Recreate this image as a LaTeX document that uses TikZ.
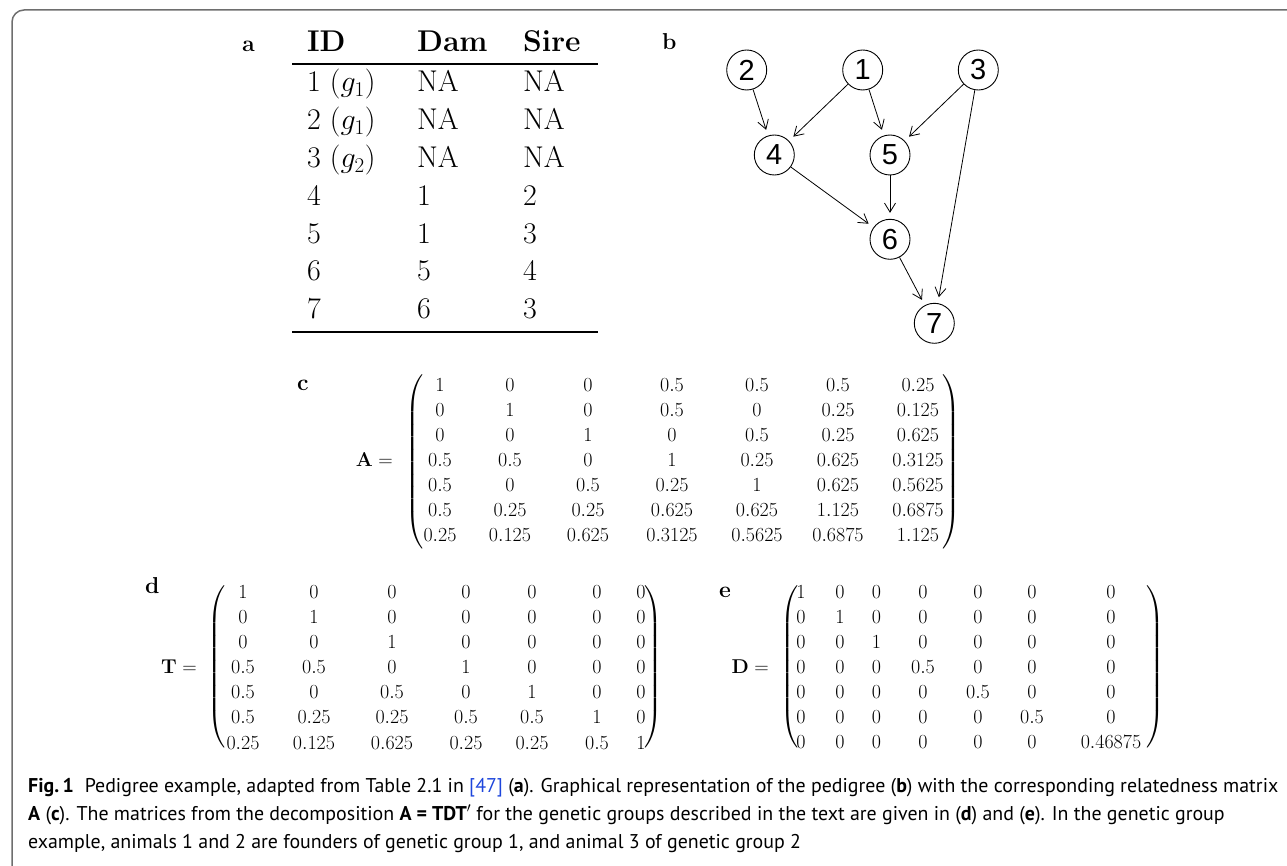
\RequirePackage{fix-cm}
\documentclass[tikz,border=0pt]{standalone}
\usepackage{exscale}
\usepackage[no-math]{fontspec}
\usetikzlibrary{arrows.meta}
\newfontfamily\gnodefont{Liberation Sans}
\newfontfamily\capfont{PT Sans}
\definecolor{linkblue}{RGB}{30,70,220}
\definecolor{framegray}{RGB}{110,110,110}
\begin{document}
\begin{tikzpicture}[x=1pt,y=-1pt,
  lab/.style={font=\fontsize{23}{27}\selectfont, inner sep=0, anchor=base west},
  tab/.style={font=\fontsize{30}{36}\selectfont, inner sep=0, anchor=base west},
  ent/.style={font=\fontsize{20}{24}\selectfont, inner sep=0},
  mname/.style={font=\fontsize{20}{24}\selectfont, inner sep=0, anchor=east},
  pn/.style={circle, draw, line width=0.9pt, minimum size=40pt, inner sep=0, font=\gnodefont\fontsize{29}{32}\selectfont},
  conn/.style={-{Straight Barb[length=9pt,width=11pt]}, line width=0.8pt, shorten >=6pt},
  captxt/.style={font=\capfont\fontsize{19.9}{23}\selectfont, inner sep=0, anchor=base west},
  rulel/.style={line width=1.3pt}
]
\useasboundingbox (0,0) rectangle (1287,866);
\clip (0,0) rectangle (1287,866);
% frame
\draw[framegray, line width=1.5pt, rounded corners=12pt] (12,10) rectangle (1330,920);

% ---------- panel a ----------
\node[lab] (la) at (242,52) {$\mathbf{a}$};
\node[tab] (hID) at (307,52) {$\mathbf{ID}$};
\node[tab] (hDam) at (417,52) {$\mathbf{Dam}$};
\node[tab] (hSire) at (523,52) {$\mathbf{Sire}$};
\coordinate (r1a) at (292,64); \coordinate (r1b) at (598,64);
\coordinate (r2a) at (292,332); \coordinate (r2b) at (598,332);
\draw[rulel] (r1a) -- (r1b);
\draw[rulel] (r2a) -- (r2b);
\foreach \id/\dam/\sire [count=\i] in {{1\ (g_1)}/\mathrm{NA}/\mathrm{NA},{2\ (g_1)}/\mathrm{NA}/\mathrm{NA},{3\ (g_2)}/\mathrm{NA}/\mathrm{NA},4/1/2,5/1/3,6/5/4,7/6/3}{
  \pgfmathsetmacro{\yy}{92+37.8*(\i-1)}
  \node[tab] (id\i) at (307,\yy) {$\id$};
  \node[tab] (dam\i) at (417,\yy) {$\dam$};
  \node[tab] (sire\i) at (523,\yy) {$\sire$};
}

% ---------- panel b ----------
\node[lab] (lb) at (662,50) {$\mathbf{b}$};
\node[pn] (n2) at (746.7,70) {2};
\node[pn] (n1) at (862.7,70) {1};
\node[pn] (n3) at (978.3,70) {3};
\node[pn] (n4) at (774.3,155) {4};
\node[pn] (n5) at (890,155) {5};
\node[pn] (n6) at (890,239.3) {6};
\node[pn] (n7) at (934.3,323.3) {7};
\draw[conn] (n2) -- (n4);
\draw[conn] (n1) -- (n4);
\draw[conn] (n1) -- (n5);
\draw[conn] (n3) -- (n5);
\draw[conn] (n3) -- (n7);
\draw[conn] (n4) -- (n6);
\draw[conn] (n5) -- (n6);
\draw[conn] (n6) -- (n7);

% ---------- panel c ----------
\node[lab] (lc) at (297,390) {$\mathbf{c}$};
\node[mname] (Aname) at (393,460) {$\mathbf{A}=$};
\node[ent] (Alp) at (415,462) {$\left(\vcenter{\hbox{\rule{0pt}{176pt}}}\right.$};
\node[ent] (Arp) at (951,462) {$\left.\vcenter{\hbox{\rule{0pt}{176pt}}}\right)$};
\foreach \row [count=\i] in {{1,0,0,0.5,0.5,0.5,0.25},{0,1,0,0.5,0,0.25,0.125},{0,0,1,0,0.5,0.25,0.625},{0.5,0.5,0,1,0.25,0.625,0.3125},{0.5,0,0.5,0.25,1,0.625,0.5625},{0.5,0.25,0.25,0.625,0.625,1.125,0.6875},{0.25,0.125,0.625,0.3125,0.5625,0.6875,1.125}}{
  \foreach \v [count=\j] in \row {
    \pgfmathsetmacro{\xx}{{440,510,588,672,757,838,918}[\j-1]}
    \pgfmathsetmacro{\yy}{385+25*(\i-1)}
    \node[ent] (A-\i-\j) at (\xx,\yy) {$\v$};
  }
}

% ---------- panel d ----------
\node[lab] (ld) at (145,593) {$\mathbf{d}$};
\node[mname] (Tname) at (197,667) {$\mathbf{T}=$};
\node[ent] (Tlp) at (217,667) {$\left(\vcenter{\hbox{\rule{0pt}{166pt}}}\right.$};
\node[ent] (Trp) at (653,667) {$\left.\vcenter{\hbox{\rule{0pt}{166pt}}}\right)$};
\foreach \row [count=\i] in {{1,0,0,0,0,0,0},{0,1,0,0,0,0,0},{0,0,1,0,0,0,0},{0.5,0.5,0,1,0,0,0},{0.5,0,0.5,0,1,0,0},{0.5,0.25,0.25,0.5,0.5,1,0},{0.25,0.125,0.625,0.25,0.25,0.5,1}}{
  \foreach \v [count=\j] in \row {
    \pgfmathsetmacro{\xx}{{243,314,392,466,532,597,641}[\j-1]}
    \pgfmathsetmacro{\yy}{592+25.1*(\i-1)}
    \node[ent] (T-\i-\j) at (\xx,\yy) {$\v$};
  }
}

% ---------- panel e ----------
\node[lab] (le) at (719,597) {$\mathbf{e}$};
\node[mname] (Dname) at (769,667) {$\mathbf{D}=$};
\node[ent] (Dlp) at (790,667) {$\left(\vcenter{\hbox{\rule{0pt}{162pt}}}\right.$};
\node[ent] (Drp) at (1155,667) {$\left.\vcenter{\hbox{\rule{0pt}{162pt}}}\right)$};
\foreach \row [count=\i] in {{1,0,0,0,0,0,0},{0,1,0,0,0,0,0},{0,0,1,0,0,0,0},{0,0,0,0.5,0,0,0},{0,0,0,0,0.5,0,0},{0,0,0,0,0,0.5,0},{0,0,0,0,0,0,0.46875}}{
  \foreach \v [count=\j] in \row {
    \pgfmathsetmacro{\xx}{{801,840,876.5,923,978,1032,1111}[\j-1]}
    \pgfmathsetmacro{\yy}{592+25*(\i-1)}
    \node[ent] (D-\i-\j) at (\xx,\yy) {$\v$};
  }
}

% ---------- caption ----------
\node[captxt] (cap1) at (28,792) {\textbf{Fig.\,1}\hspace{0.55em}Pedigree example, adapted from Table 2.1 in {\color{linkblue}[47]} (\textbf{a}). Graphical representation of the pedigree (\textbf{b}) with the corresponding relatedness matrix};
\node[captxt] (cap2) at (28,820) {\textbf{A} (\textbf{c}). The matrices from the decomposition \textbf{A = TDT}$'$ for the genetic groups described in the text are given in (\textbf{d}) and (\textbf{e}). In the genetic group};
\node[captxt] (cap3) at (28,848) {example, animals 1 and 2 are founders of genetic group 1, and animal 3 of genetic group 2};
\end{tikzpicture}
\end{document}
